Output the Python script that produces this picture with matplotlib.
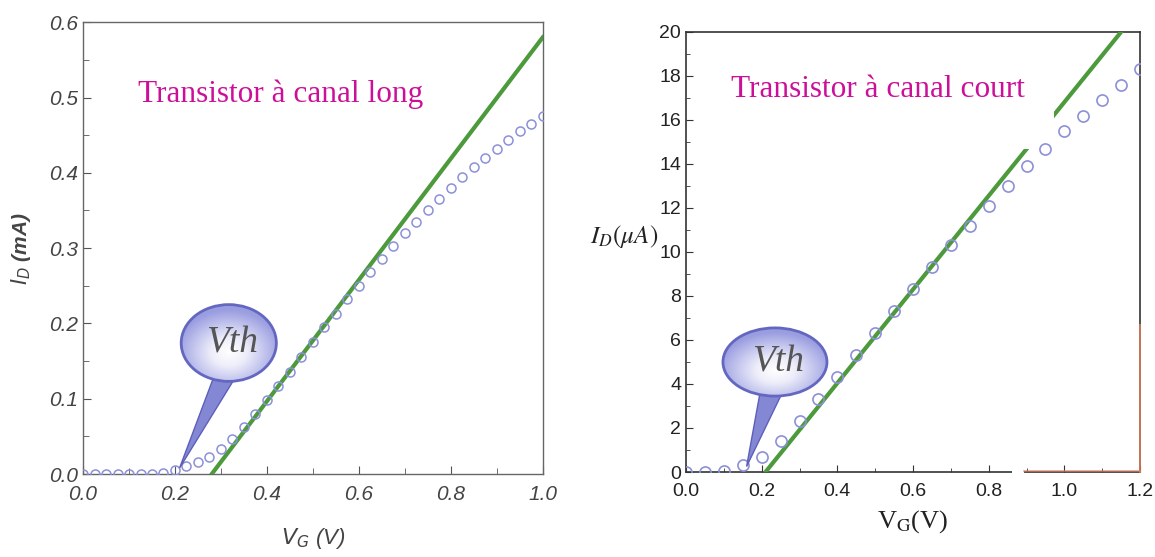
import numpy as np
import matplotlib.pyplot as plt
from matplotlib.patches import Ellipse, Polygon, Rectangle
from matplotlib.colors import LinearSegmentedColormap
from matplotlib.ticker import MultipleLocator, FormatStrFormatter

# long-channel transistor, I_D (mA) vs V_G (V)
vg_long = [0.0, 0.025, 0.05, 0.075, 0.1, 0.125, 0.15, 0.175, 0.2, 0.225,
           0.25, 0.275, 0.3, 0.325, 0.35, 0.375, 0.4, 0.425, 0.45, 0.475,
           0.5, 0.525, 0.55, 0.575, 0.6, 0.625, 0.65, 0.675, 0.7, 0.725,
           0.75, 0.775, 0.8, 0.825, 0.85, 0.875, 0.9, 0.925, 0.95, 0.975, 1.0]
id_long = [0.0, 0.0, 0.0, 0.0, 0.0, 0.0, 0.0, 0.001, 0.005, 0.010,
           0.016, 0.023, 0.033, 0.047, 0.063, 0.080, 0.098, 0.117, 0.136, 0.155,
           0.175, 0.195, 0.213, 0.232, 0.250, 0.268, 0.286, 0.303, 0.320, 0.335,
           0.350, 0.365, 0.380, 0.395, 0.408, 0.420, 0.432, 0.443, 0.455, 0.465, 0.475]
fit_long_x = [0.28, 1.0]
fit_long_y = [0.0, 0.58]

# short-channel transistor, I_D (uA) vs V_G (V)
vg_short = [0.0, 0.05, 0.1, 0.15, 0.2, 0.25, 0.3, 0.35, 0.4, 0.45, 0.5, 0.55,
            0.6, 0.65, 0.7, 0.75, 0.8, 0.85, 0.9, 0.95, 1.0, 1.05, 1.1, 1.15, 1.2]
id_short = [0.0, 0.0, 0.05, 0.3, 0.7, 1.4, 2.3, 3.3, 4.3, 5.3, 6.3, 7.3,
            8.3, 9.3, 10.3, 11.2, 12.1, 13.0, 13.9, 14.7, 15.5, 16.2, 16.9, 17.6, 18.3]
fit_short_x = [0.21, 1.15]
fit_short_y = [0.0, 20.0]

MARK = '#8c90d8'
GREEN = '#4c9a3c'
PINK = '#cc0f99'

bubble_cmap = LinearSegmentedColormap.from_list(
    'bub', ['#ffffff', '#eeeefa', '#c4c6ee', '#9a9de0'])


def speech_bubble(ax, cx, cy, w, h, tip, base):
    # tail first, then the shaded ellipse on top
    tail = Polygon([base[0], tip, base[1]], closed=True, facecolor='#8488d4',
                   edgecolor='#5c5fb8', lw=1.0, zorder=5)
    ax.add_patch(tail)
    ell = Ellipse((cx, cy), w, h, facecolor='none', edgecolor='#6367c0',
                  lw=2.0, zorder=7)
    ax.add_patch(ell)
    xx, yy = np.meshgrid(np.linspace(-1, 1, 200), np.linspace(-1, 1, 200))
    rr = np.sqrt(xx ** 2 + (yy + 0.25) ** 2)
    img = ax.imshow(rr, cmap=bubble_cmap, vmin=0, vmax=1.1, origin='lower',
                    extent=[cx - w / 2, cx + w / 2, cy - h / 2, cy + h / 2],
                    aspect='auto', zorder=6, interpolation='bilinear')
    img.set_clip_path(ell)
    ax.text(cx + w * 0.03, cy, 'Vth', fontsize=27, style='italic',
            family='Liberation Serif', color='#555555', ha='center',
            va='center', zorder=8)


fig = plt.figure(figsize=(11.55, 5.57), dpi=100)

# ---------- left panel ----------
ax1 = fig.add_axes([0.0719, 0.149, 0.398, 0.811])
ax1.plot(fit_long_x, fit_long_y, color=GREEN, lw=3, zorder=3)
ax1.plot(vg_long, id_long, 'o', mfc='none', mec=MARK, ms=6.5, mew=1.1, zorder=4)
ax1.xaxis.set_major_locator(MultipleLocator(0.2))
ax1.xaxis.set_minor_locator(MultipleLocator(0.1))
ax1.yaxis.set_major_locator(MultipleLocator(0.1))
ax1.yaxis.set_minor_locator(MultipleLocator(0.05))
ax1.xaxis.set_major_formatter(FormatStrFormatter('%.1f'))
ax1.yaxis.set_major_formatter(FormatStrFormatter('%.1f'))
ax1.tick_params(which='both', direction='in', color='#555555', labelcolor='#444444',
                labelsize=15, top=False, right=False)
ax1.tick_params(which='major', length=6)
ax1.tick_params(which='minor', length=4)
ax1.tick_params(axis='x', pad=8)
for sp in ax1.spines.values():
    sp.set_color('#666666')
    sp.set_linewidth(1.0)
ax1.set_xlabel(r'$V_G$ (V)', fontsize=16, style='italic', color='#444444',
               family='Liberation Sans', math_fontfamily='dejavusans', labelpad=16)
ax1.set_ylabel(r'$I_D$ (mA)', fontsize=15, style='italic', weight='bold',
               color='#444444', family='Liberation Sans',
               math_fontfamily='dejavusans', labelpad=12)
ax1.text(0.12, 0.505, 'Transistor à canal long', fontsize=22.5, color=PINK,
         family='Liberation Serif', va='center')
speech_bubble(ax1, 0.317, 0.174, 0.207, 0.102, (0.21, 0.008),
              [(0.282, 0.125), (0.33, 0.127)])
ax1.set_xlim(0, 1.0)
ax1.set_ylim(0, 0.6)
for lab in ax1.get_xticklabels() + ax1.get_yticklabels():
    lab.set_style('italic')
    lab.set_family('Liberation Sans')

# ---------- right panel ----------
ax2 = fig.add_axes([0.594, 0.1526, 0.393, 0.79])
ax2.plot(fit_short_x, fit_short_y, color=GREEN, lw=3, zorder=3)
# white patch behind the panel title hides part of the fit line
ax2.add_patch(Rectangle((0.1, 14.7), 0.874, 4.6, facecolor='white',
                        edgecolor='none', zorder=3.5))
ax2.plot(vg_short, id_short, 'o', mfc='none', mec=MARK, ms=8, mew=1.2, zorder=4)
ax2.xaxis.set_major_locator(MultipleLocator(0.2))
ax2.xaxis.set_minor_locator(MultipleLocator(0.1))
ax2.yaxis.set_major_locator(MultipleLocator(2))
ax2.yaxis.set_minor_locator(MultipleLocator(1))
ax2.xaxis.set_major_formatter(FormatStrFormatter('%.1f'))
ax2.yaxis.set_major_formatter(FormatStrFormatter('%d'))
ax2.tick_params(which='both', direction='in', color='#333333', labelcolor='#222222',
                labelsize=14, top=False, right=False)
ax2.tick_params(which='major', length=5)
ax2.tick_params(which='minor', length=3)
ax2.tick_params(axis='x', pad=8)
for sp in ax2.spines.values():
    sp.set_color('#333333')
    sp.set_linewidth(1.2)
# pasted-patch artefacts on the frame
ax2.add_patch(Rectangle((0.862, -0.3), 0.032, 0.6, facecolor='white',
                        edgecolor='none', zorder=5, clip_on=False))
ax2.plot([0.894, 1.2], [0.05, 0.05], color='#e0805a', lw=1.2, alpha=0.7,
         zorder=5, clip_on=False)
ax2.plot([1.2, 1.2], [0.0, 6.7], color='#e0805a', lw=1.4, alpha=0.8,
         zorder=5, clip_on=False)
ax2.set_xlabel(r'V$_{\mathrm{G}}$(V)', fontsize=19, family='Liberation Serif',
               math_fontfamily='stix', color='#222222', labelpad=6)
ax2.text(-0.075, 10.7, r'$I_D(\mu A)$', fontsize=18, math_fontfamily='stix',
         color='#222222', ha='right', va='center')
ax2.text(0.12, 17.4, 'Transistor à canal court', fontsize=22.5, color=PINK,
         family='Liberation Serif', va='center', zorder=6)
speech_bubble(ax2, 0.235, 5.0, 0.275, 3.1, (0.16, 0.25),
              [(0.195, 3.55), (0.25, 3.45)])
ax2.set_xlim(0, 1.2)
ax2.set_ylim(0, 20)
for lab in ax2.get_xticklabels() + ax2.get_yticklabels():
    lab.set_family('Liberation Sans')

fig.savefig('out.png', dpi=100)
